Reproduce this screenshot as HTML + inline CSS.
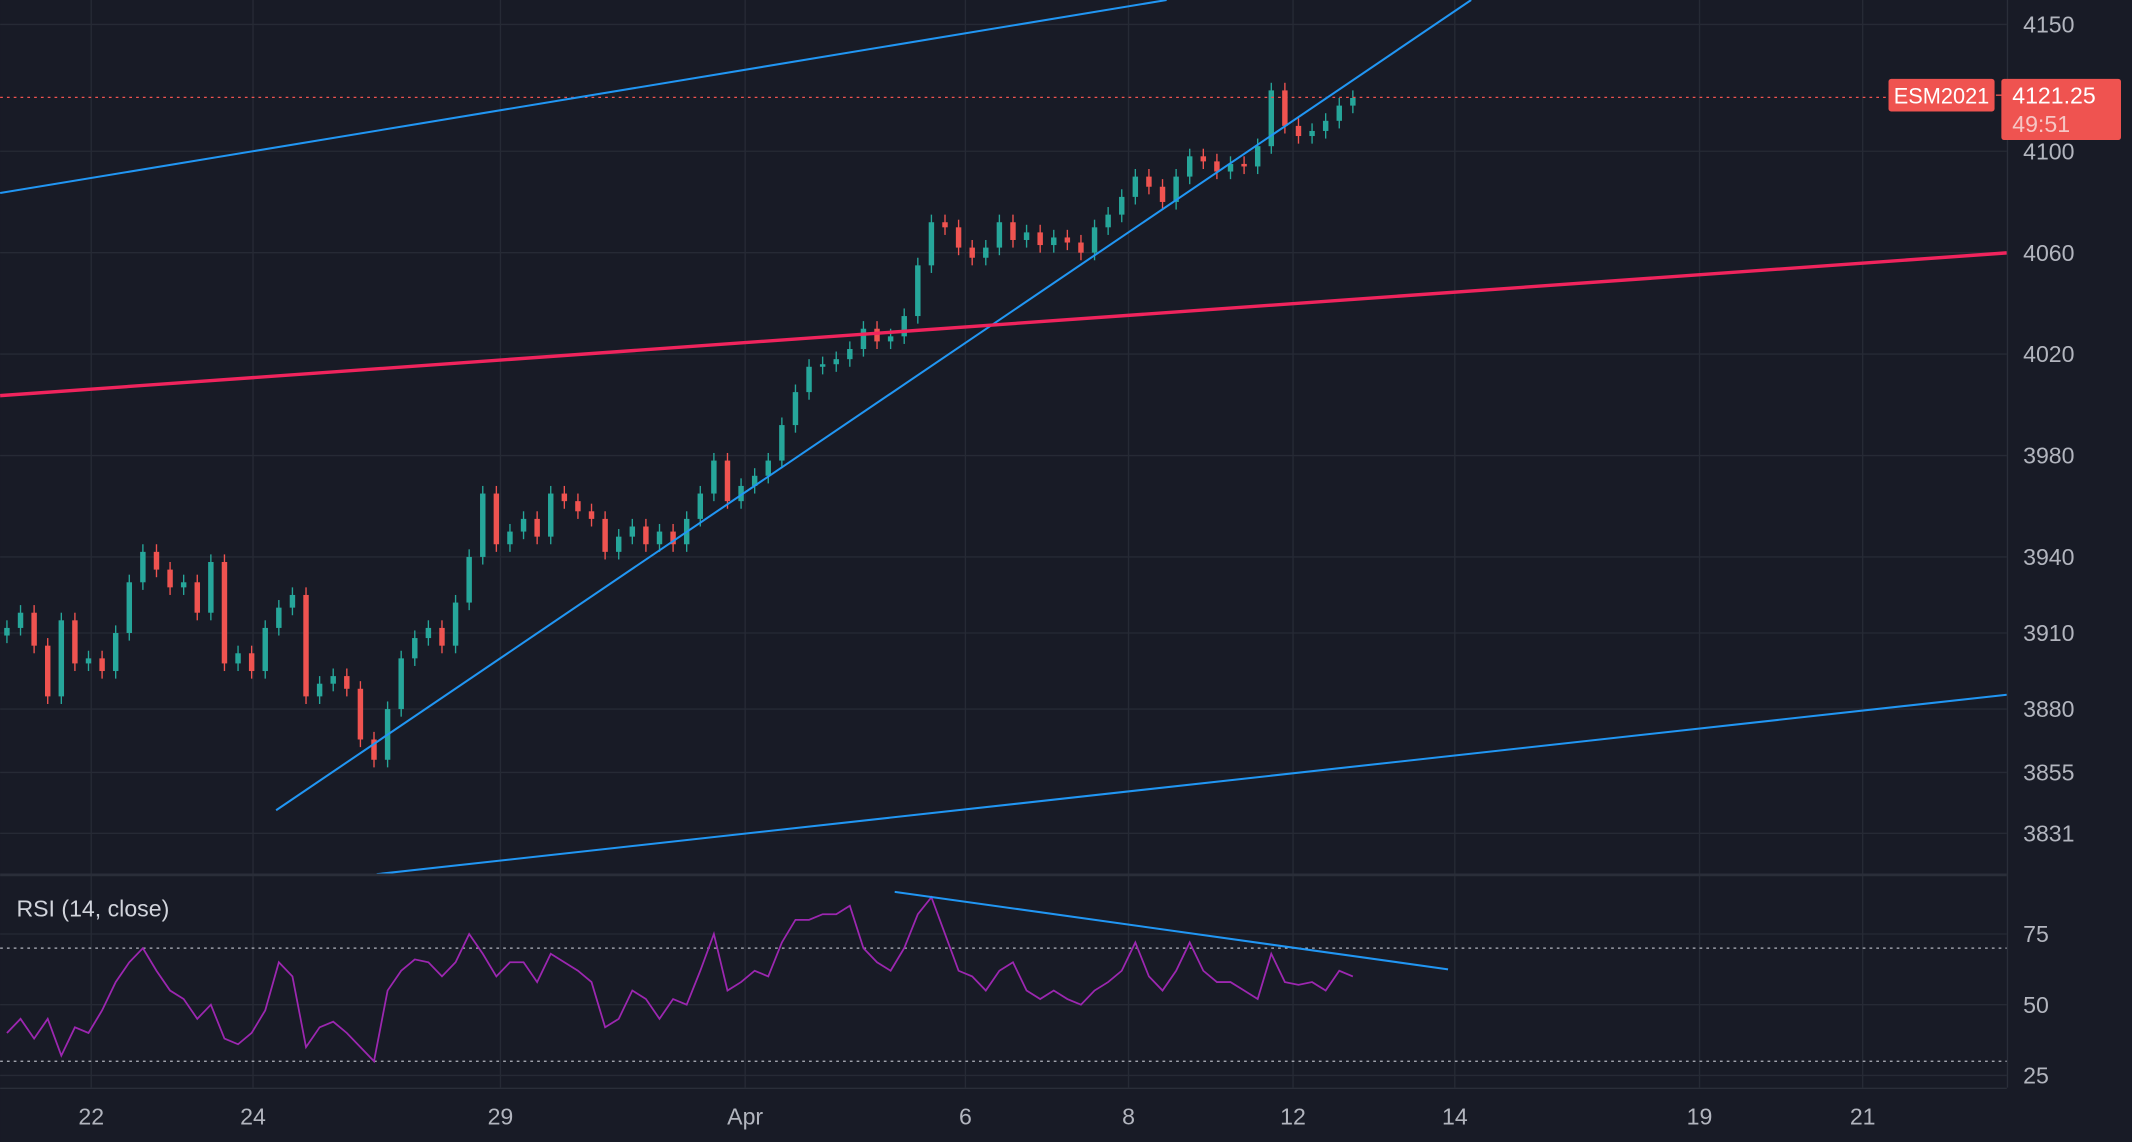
<!DOCTYPE html>
<html><head><meta charset="utf-8"><style>
html,body{margin:0;padding:0;background:#181b26;}
svg{display:block;font-family:"Liberation Sans",sans-serif;}
</style></head><body>
<svg width="2132" height="1142" viewBox="0 0 1568 840">
<rect x="0" y="0" width="1568" height="840" fill="#181b26"/>
<g id="grid"></g>
<g id="candles"></g>
<g id="draw"></g>
<g id="rsi"></g>
<g id="axes"></g>
<line x1="0" y1="643.5" x2="1476" y2="643.5" stroke="#2a2e39" stroke-width="2"/>
<line x1="1476.5" y1="0" x2="1476.5" y2="800" stroke="#2a2e39"/>
<line x1="0" y1="800.5" x2="1476" y2="800.5" stroke="#2a2e39"/>
<text x="12" y="674" fill="#d1d4dc" font-size="17">RSI (14, close)</text>
<rect x="1389" y="58" width="78" height="24" rx="2" fill="#ef5350"/>
<text x="1428" y="76" fill="#fff" font-size="16" text-anchor="middle">ESM2021</text>
<line x1="1468" y1="70" x2="1474" y2="70" stroke="#ef5350"/>
<rect x="1472" y="58" width="88" height="45" rx="2" fill="#ef5350"/>
<text x="1480" y="76" fill="#fff" font-size="17">4121.25</text>
<text x="1480" y="97" fill="#f6c6c5" font-size="17">49:51</text>
</svg>
<script>
const closes=[3912,3918,3905,3885,3915,3898,3900,3895,3910,3930,3942,3935,3928,3930,3918,3938,3898,3902,3895,3912,3920,3925,3885,3890,3893,3888,3868,3860,3880,3900,3908,3912,3905,3922,3940,3965,3945,3950,3955,3948,3965,3962,3958,3955,3942,3948,3952,3945,3950,3945,3955,3965,3978,3962,3968,3972,3978,3992,4005,4015,4016,4018,4022,4030,4025,4027,4035,4055,4072,4070,4062,4058,4062,4072,4065,4068,4063,4066,4064,4060,4070,4075,4082,4090,4086,4080,4090,4098,4096,4092,4095,4094,4102,4124,4110,4106,4108,4112,4118,4121];
const rsiValues=[40,45,38,45,32,42,40,48,58,65,70,62,55,52,45,50,38,36,40,48,65,60,35,42,44,40,35,30,55,62,66,65,60,65,75,68,60,65,65,58,68,65,62,58,42,45,55,52,45,52,50,62,75,55,58,62,60,72,80,80,82,82,85,70,65,62,70,82,88,75,62,60,55,62,65,55,52,55,52,50,55,58,62,72,60,55,62,72,62,58,58,55,52,68,58,57,58,55,62,60];
const priceTicks=[4150,4100,4060,4020,3980,3940,3910,3880,3855,3831];
const rsiTicks=[75,50,25];
const timeLabels=["22","24","29","Apr","6","8","12","14","19","21"];
const timeSlots=[6.2,18.1,36.3,54.3,70.5,82.5,94.6,106.5,124.5,136.5];
const lastPrice=4121.25;
const NS="http://www.w3.org/2000/svg";
const py=p=>18+(4150-p)*1.865;
const ry=v=>739-(v-50)*2.08;
const bx=i=>5+i*10;
const tx=s=>5+s*10;
function mk(parent,tag,attrs){const e=document.createElementNS(NS,tag);for(const k in attrs)e.setAttribute(k,attrs[k]);document.getElementById(parent).appendChild(e);return e;}
// grid
priceTicks.forEach(p=>{const l=mk('grid','line',{x1:0,x2:1476,y1:py(p),y2:py(p),stroke:'#262a35'});


const t=mk('axes','text',{x:1488,y:py(p)+6,fill:'#b2b5be','font-size':17});t.textContent=p;

});
rsiTicks.forEach(v=>{const l=mk('grid','line',{x1:0,x2:1476,y1:ry(v),y2:ry(v),stroke:'#262a35'});


const t=mk('axes','text',{x:1488,y:ry(v)+6,fill:'#b2b5be','font-size':17});t.textContent=v;

});
timeLabels.forEach((s,i)=>{const x=tx(timeSlots[i]);const l=mk('grid','line',{x1:x,x2:x,y1:0,y2:800,stroke:'#262a35'});


const t=mk('axes','text',{x:x,y:827,fill:'#b2b5be','font-size':17,'text-anchor':'middle'});t.textContent=s;

});
[70,30].forEach(v=>{const l=mk('rsi','line',{x1:0,x2:1476,y1:ry(v),y2:ry(v),stroke:'#b2b5be','stroke-dasharray':'2,3'});

});
// candles
closes.forEach((c,i)=>{const o=i?closes[i-1]:c-3;const up=c>=o;const col=up?'#26a69a':'#ef5350';
const x=bx(i);const hi=Math.max(o,c)+3,lo=Math.min(o,c)-3;
const w=mk('candles','line',{x1:x,x2:x,y1:py(hi),y2:py(lo),stroke:col,'stroke-width':1});


const b=mk('candles','rect',{x:x-2,y:py(Math.max(o,c)),width:4,height:Math.max(1,Math.abs(py(o)-py(c))),fill:col});

});
// last price line
const lp=mk('draw','line',{x1:0,x2:1389,y1:py(lastPrice),y2:py(lastPrice),stroke:'#ef5350','stroke-dasharray':'2,3'});


// trend lines
const tl=[[0,142,858,0,'#2196f3',1.5,'upper-channel-line'],[203,596,1082,0,'#2196f3',1.5,'uptrend-line'],[0,291,1476,186,'#f0245d',2.5,'red-trend-line'],[277,643,1476,511,'#2196f3',1.5,'lower-channel-line']];
tl.forEach(a=>{const l=mk('draw','line',{x1:a[0],y1:a[1],x2:a[2],y2:a[3],stroke:a[4],'stroke-width':a[5]});

});
// rsi
const pts=rsiValues.map((v,i)=>bx(i)+','+ry(v)).join(' ');
const rl=mk('rsi','polyline',{points:pts,fill:'none',stroke:'#9c27b0','stroke-width':1.3});


const rt=mk('rsi','line',{x1:658,y1:656,x2:1065,y2:713,stroke:'#2196f3','stroke-width':1.5});


</script>
</body></html>
